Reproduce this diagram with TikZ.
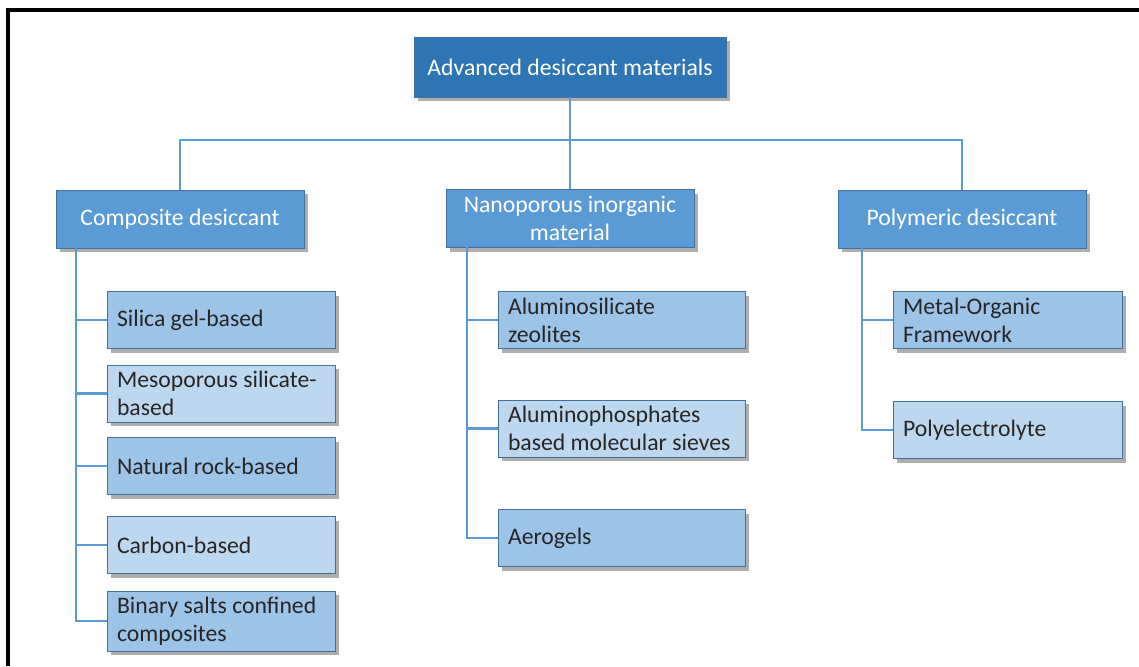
\documentclass[tikz,border=0pt]{standalone}
\usepackage{fontspec}
\setmainfont{Carlito}
\usepackage{tikz}
\usetikzlibrary{positioning, shadows}
\usepackage{xcolor}
\definecolor{rootblue}{RGB}{46,117,182}
\definecolor{midblue}{RGB}{91,155,213}
\definecolor{leafdark}{RGB}{157,195,230}
\definecolor{leaflight}{RGB}{189,215,238}
\definecolor{edgeblue}{RGB}{65,113,156}
\definecolor{linkblue}{RGB}{91,155,213}

\begin{document}
\begin{tikzpicture}[x=0.02cm, y=-0.02cm,
  font=\fontsize{13.5}{16}\selectfont,
  box/.style={draw=edgeblue, line width=0.5pt,
    drop shadow={shadow xshift=2.5pt, shadow yshift=-2.5pt, opacity=0.45, fill=black!70}},
  rootbox/.style={box, fill=rootblue, text=white, minimum width=6.24cm, minimum height=1.2cm, align=flush center},
  midbox/.style={box, fill=midblue, text=white, minimum width=4.96cm, minimum height=1.16cm, align=flush center},
  leaf/.style={box, text=black!85, minimum height=1.14cm, inner xsep=0.2cm, align=flush left},
  darkleaf/.style={leaf, fill=leafdark},
  lightleaf/.style={leaf, fill=leaflight},
  link/.style={linkblue, line width=1.3pt}]
  \useasboundingbox (0,0) rectangle (1139,666);
  % frame
  \draw[line width=2.3pt] (8,666) -- (8,10) -- (1139,10);

  \node[rootbox] (root) at (570,67) {Advanced desiccant materials};
  \node[midbox] (comp) at (180,219) {Composite desiccant};
  \node[midbox] (nano) at (570,218.5) {Nanoporous inorganic\\material};
  \node[midbox] (poly) at (962,219) {Polymeric desiccant};

  % composite desiccant
  \node[darkleaf, text width=4.16cm] (silica) at (221,320) {Silica gel-based};
  \node[lightleaf, text width=4.16cm] (meso) at (221,393.5) {Mesoporous silicate-\\based};
  \node[darkleaf, text width=4.16cm] (rock) at (221,466) {Natural rock-based};
  \node[lightleaf, text width=4.16cm] (carbon) at (221,545) {Carbon-based};
  \node[darkleaf, text width=4.16cm] (binary) at (221,621) {Binary salts confined\\composites};

  % nanoporous inorganic
  \node[darkleaf, text width=4.54cm] (zeolite) at (621.5,320) {Aluminosilicate\\zeolites};
  \node[lightleaf, text width=4.54cm] (alpo) at (621.5,428.5) {Aluminophosphates\\based molecular sieves};
  \node[darkleaf, text width=4.54cm] (aerogel) at (621.5,538) {Aerogels};

  % polymeric
  \node[darkleaf, text width=4.18cm] (mof) at (1007.5,320) {Metal-Organic\\Framework};
  \node[lightleaf, text width=4.18cm] (polyel) at (1007.5,430) {Polyelectrolyte};

  % connectors
  \coordinate (bar) at (570,140);
  \draw[link] (root.south) -- (nano.north);
  \draw[link] (comp.north) |- (bar) -| (poly.north);

  \coordinate (cspine) at (76,248);
  \coordinate (nspine) at (467,247);
  \coordinate (pspine) at (862,248);
  \foreach \leaf in {silica, meso, rock, carbon, binary}
    \draw[link] (cspine) |- (\leaf.west);
  \foreach \leaf in {zeolite, alpo, aerogel}
    \draw[link] (nspine) |- (\leaf.west);
  \foreach \leaf in {mof, polyel}
    \draw[link] (pspine) |- (\leaf.west);
\end{tikzpicture}
\end{document}
